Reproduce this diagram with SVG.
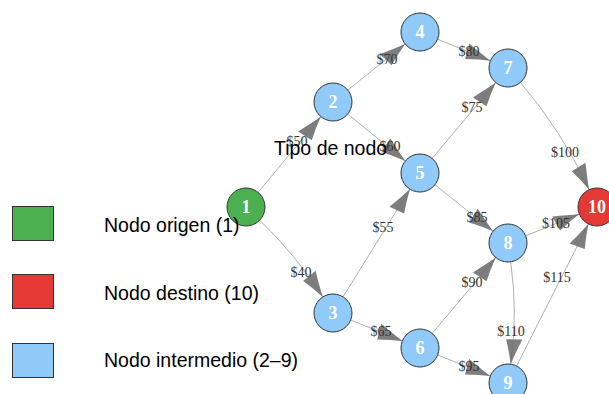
<svg xmlns="http://www.w3.org/2000/svg" width="609" height="394" viewBox="0 0 609 394">
<style>
.edge{fill:none;stroke:#9a9a9a;stroke-width:0.8;marker-end:url(#arr)}
.node circle{stroke:#333;stroke-width:1}
.origin circle{fill:#4CAF50}
.dest circle{fill:#E53935}
.mid circle{fill:#90CAF9}
.nl{font-family:"Liberation Serif",serif;font-weight:bold;font-size:18px;fill:#fff;text-anchor:middle;dominant-baseline:central}
.el{font-family:"Liberation Serif",serif;font-size:14px;fill:#333;text-anchor:middle;dominant-baseline:central}
.lg{font-family:"Liberation Sans",Arial,sans-serif;font-size:19.5px;fill:#000}
.sw{stroke:#333;stroke-width:1}
</style>
<defs>
<marker id="arr" markerUnits="userSpaceOnUse" orient="auto" refX="0" refY="0" markerWidth="30" markerHeight="20" overflow="visible">
<path d="M0,0 Q-11,-3 -26,-8 L-24,8 Q-11,3 0,0 Z" fill="#707070" fill-opacity="0.9"/>
</marker>
</defs>
<rect width="609" height="394" fill="#fff"/>
<g id="edges">
<path class="edge" d="M258.1,192.4 L320.9,116.6"/>
<path class="edge" d="M259.7,220.2 Q296,255 322.8,297"/>
<path class="edge" d="M347.8,90.1 L405.2,43.9"/>
<path class="edge" d="M347.7,114 L405.3,161"/>
<path class="edge" d="M343,296.9 L410,188.9"/>
<path class="edge" d="M350.6,320.1 L402.4,340.9"/>
<path class="edge" d="M437.6,39.2 L490.4,60.8"/>
<path class="edge" d="M432.2,158.4 L495.8,82.6"/>
<path class="edge" d="M434.9,184.8 L493.1,231.2"/>
<path class="edge" d="M432.2,333.4 L495.8,257.6"/>
<path class="edge" d="M437.7,355 L490.3,376"/>
<path class="edge" d="M520.4,82.4 Q562,131 589.1,189.7"/>
<path class="edge" d="M525.6,235.9 L579.4,214.1"/>
<path class="edge" d="M510.7,261.8 Q518,313 510.7,364.2"/>
<path class="edge" d="M516.6,366 L588.4,224"/>
</g>
<g id="edge-labels">
<text class="el" x="297" y="141">$50</text>
<text class="el" x="301" y="272">$40</text>
<text class="el" x="387" y="59">$70</text>
<text class="el" x="390" y="146">$60</text>
<text class="el" x="383" y="227">$55</text>
<text class="el" x="381" y="331">$65</text>
<text class="el" x="469" y="51">$80</text>
<text class="el" x="472" y="107">$75</text>
<text class="el" x="477" y="217">$85</text>
<text class="el" x="472" y="282">$90</text>
<text class="el" x="469" y="366">$95</text>
<text class="el" x="565" y="152">$100</text>
<text class="el" x="556" y="223">$105</text>
<text class="el" x="511" y="331">$110</text>
<text class="el" x="557" y="277">$115</text>
</g>
<g id="n1" class="node origin"><circle cx="246" cy="207" r="19"/><text class="nl" x="246" y="207">1</text></g>
<g id="n2" class="node mid"><circle cx="333" cy="102" r="19"/><text class="nl" x="333" y="102">2</text></g>
<g id="n3" class="node mid"><circle cx="333" cy="313" r="19"/><text class="nl" x="333" y="313">3</text></g>
<g id="n4" class="node mid"><circle cx="420" cy="32" r="19"/><text class="nl" x="420" y="32">4</text></g>
<g id="n5" class="node mid"><circle cx="420" cy="173" r="19"/><text class="nl" x="420" y="173">5</text></g>
<g id="n6" class="node mid"><circle cx="420" cy="348" r="19"/><text class="nl" x="420" y="348">6</text></g>
<g id="n7" class="node mid"><circle cx="508" cy="68" r="19"/><text class="nl" x="508" y="68">7</text></g>
<g id="n8" class="node mid"><circle cx="508" cy="243" r="19"/><text class="nl" x="508" y="243">8</text></g>
<g id="n9" class="node mid"><circle cx="508" cy="383" r="19"/><text class="nl" x="508" y="383">9</text></g>
<g id="n10" class="node dest"><circle cx="597" cy="207" r="19"/><text class="nl" x="597" y="207">10</text></g>
<g id="legend">
<text class="lg" x="274" y="155">Tipo de nodo</text>
<rect class="sw" x="12.5" y="206.5" width="41" height="34" fill="#4CAF50"/>
<text class="lg" x="104" y="232">Nodo origen (1)</text>
<rect class="sw" x="12.5" y="274.5" width="41" height="34" fill="#E53935"/>
<text class="lg" x="104" y="300">Nodo destino (10)</text>
<rect class="sw" x="12.5" y="343.5" width="41" height="34" fill="#90CAF9"/>
<text class="lg" x="104" y="367">Nodo intermedio (2–9)</text>
</g>
</svg>
